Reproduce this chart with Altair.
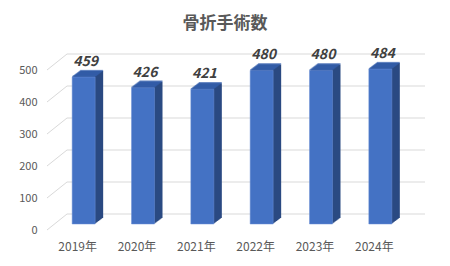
import altair as alt
import pandas as pd

years = ["2019年", "2020年", "2021年", "2022年", "2023年", "2024年"]
counts = [459, 426, 421, 480, 480, 484]
grid_values = [0, 100, 200, 300, 400, 500]

df = pd.DataFrame({"year": years, "count": counts})
gdf = pd.DataFrame({"v": grid_values})

FONT = "Noto Sans CJK JP"
FRONT = "#4472C4"
SIDE = "#2B4A82"
TOP = "#3560AD"
GRID = "#D9D9D9"
BAR_W = 23
DX = 8
DY = 6
SHIFT = -4  # front face offset from band centre
PX_PER_UNIT = 160 / 500

xenc = alt.X("year:N", sort=years, title=None,
             scale=alt.Scale(paddingInner=0, paddingOuter=0),
             axis=alt.Axis(labelFont=FONT, labelFontSize=12, labelColor="#595959",
                           labelAngle=0, domain=False, ticks=False, tickSize=0,
                           labelPadding=17, labelOffset=-10))
yscale = alt.Scale(domain=[0, 500], nice=False, zero=True)
yaxis = alt.Axis(values=grid_values, labelFont=FONT, labelFontSize=11,
                 labelColor="#595959", domain=False, ticks=False, tickSize=0,
                 grid=False, labelPadding=21, labelOffset=6,
                 labelOverlap=False, title=None)
yenc = alt.Y("count:Q", scale=yscale, title=None, axis=yaxis)

base = alt.Chart(df)

# back wall gridlines
back_grid = alt.Chart(gdf).mark_rule(color=GRID, strokeWidth=1, yOffset=-10).encode(
    y=alt.Y("v:Q", scale=yscale, title=None, axis=yaxis),
    x=alt.value(9), x2=alt.value(367),
)
# left wall diagonals (front -> back)
diag = alt.Chart(gdf).transform_calculate(
    yf="datum.v - 6 / %f" % PX_PER_UNIT,
    yb="datum.v + 10 / %f" % PX_PER_UNIT,
).mark_rule(color=GRID, strokeWidth=1).encode(
    y=alt.Y("yf:Q", scale=yscale, title=None, axis=yaxis),
    y2="yb:Q",
    x=alt.value(-11), x2=alt.value(9),
)

layers = [back_grid, diag]

# side extrusion
for k in range(DX, 0, -1):
    layers.append(
        base.mark_bar(size=BAR_W, color=SIDE, xOffset=SHIFT + k, yOffset=-k * DY / DX)
        .encode(x=xenc, y=yenc)
    )
# top face
for k in range(0, DX + 1):
    layers.append(
        base.mark_tick(size=BAR_W, thickness=1.5, color=TOP, orient="horizontal",
                       xOffset=SHIFT + k, yOffset=-k * DY / DX - 0.5)
        .encode(x=xenc, y=yenc)
    )
# front face
layers.append(
    base.mark_bar(size=BAR_W, color=FRONT, xOffset=SHIFT, stroke="#6A8FD4", strokeWidth=0.5)
    .encode(x=xenc, y=yenc)
)
# value labels
layers.append(
    base.mark_text(font=FONT, fontSize=14, fontStyle="italic", fontWeight="bold",
                   color="#404040", baseline="middle", dx=-2, dy=-15)
    .encode(x=xenc, y=yenc, text="count:Q")
)

chart = alt.layer(*layers).properties(
    width=356, height=160,
    autosize=alt.AutoSizeParams(type="none"),
    padding={"left": 58, "top": 64, "right": 36, "bottom": 42},
    title=alt.TitleParams("骨折手術数", font=FONT, fontSize=17, fontWeight="bold",
                          color="#595959", anchor="middle", dx=-11, offset=14),
).configure(background="white", view=alt.ViewConfig(stroke=None))

chart.save("out.html", embed_options={"renderer": "svg", "actions": False})
